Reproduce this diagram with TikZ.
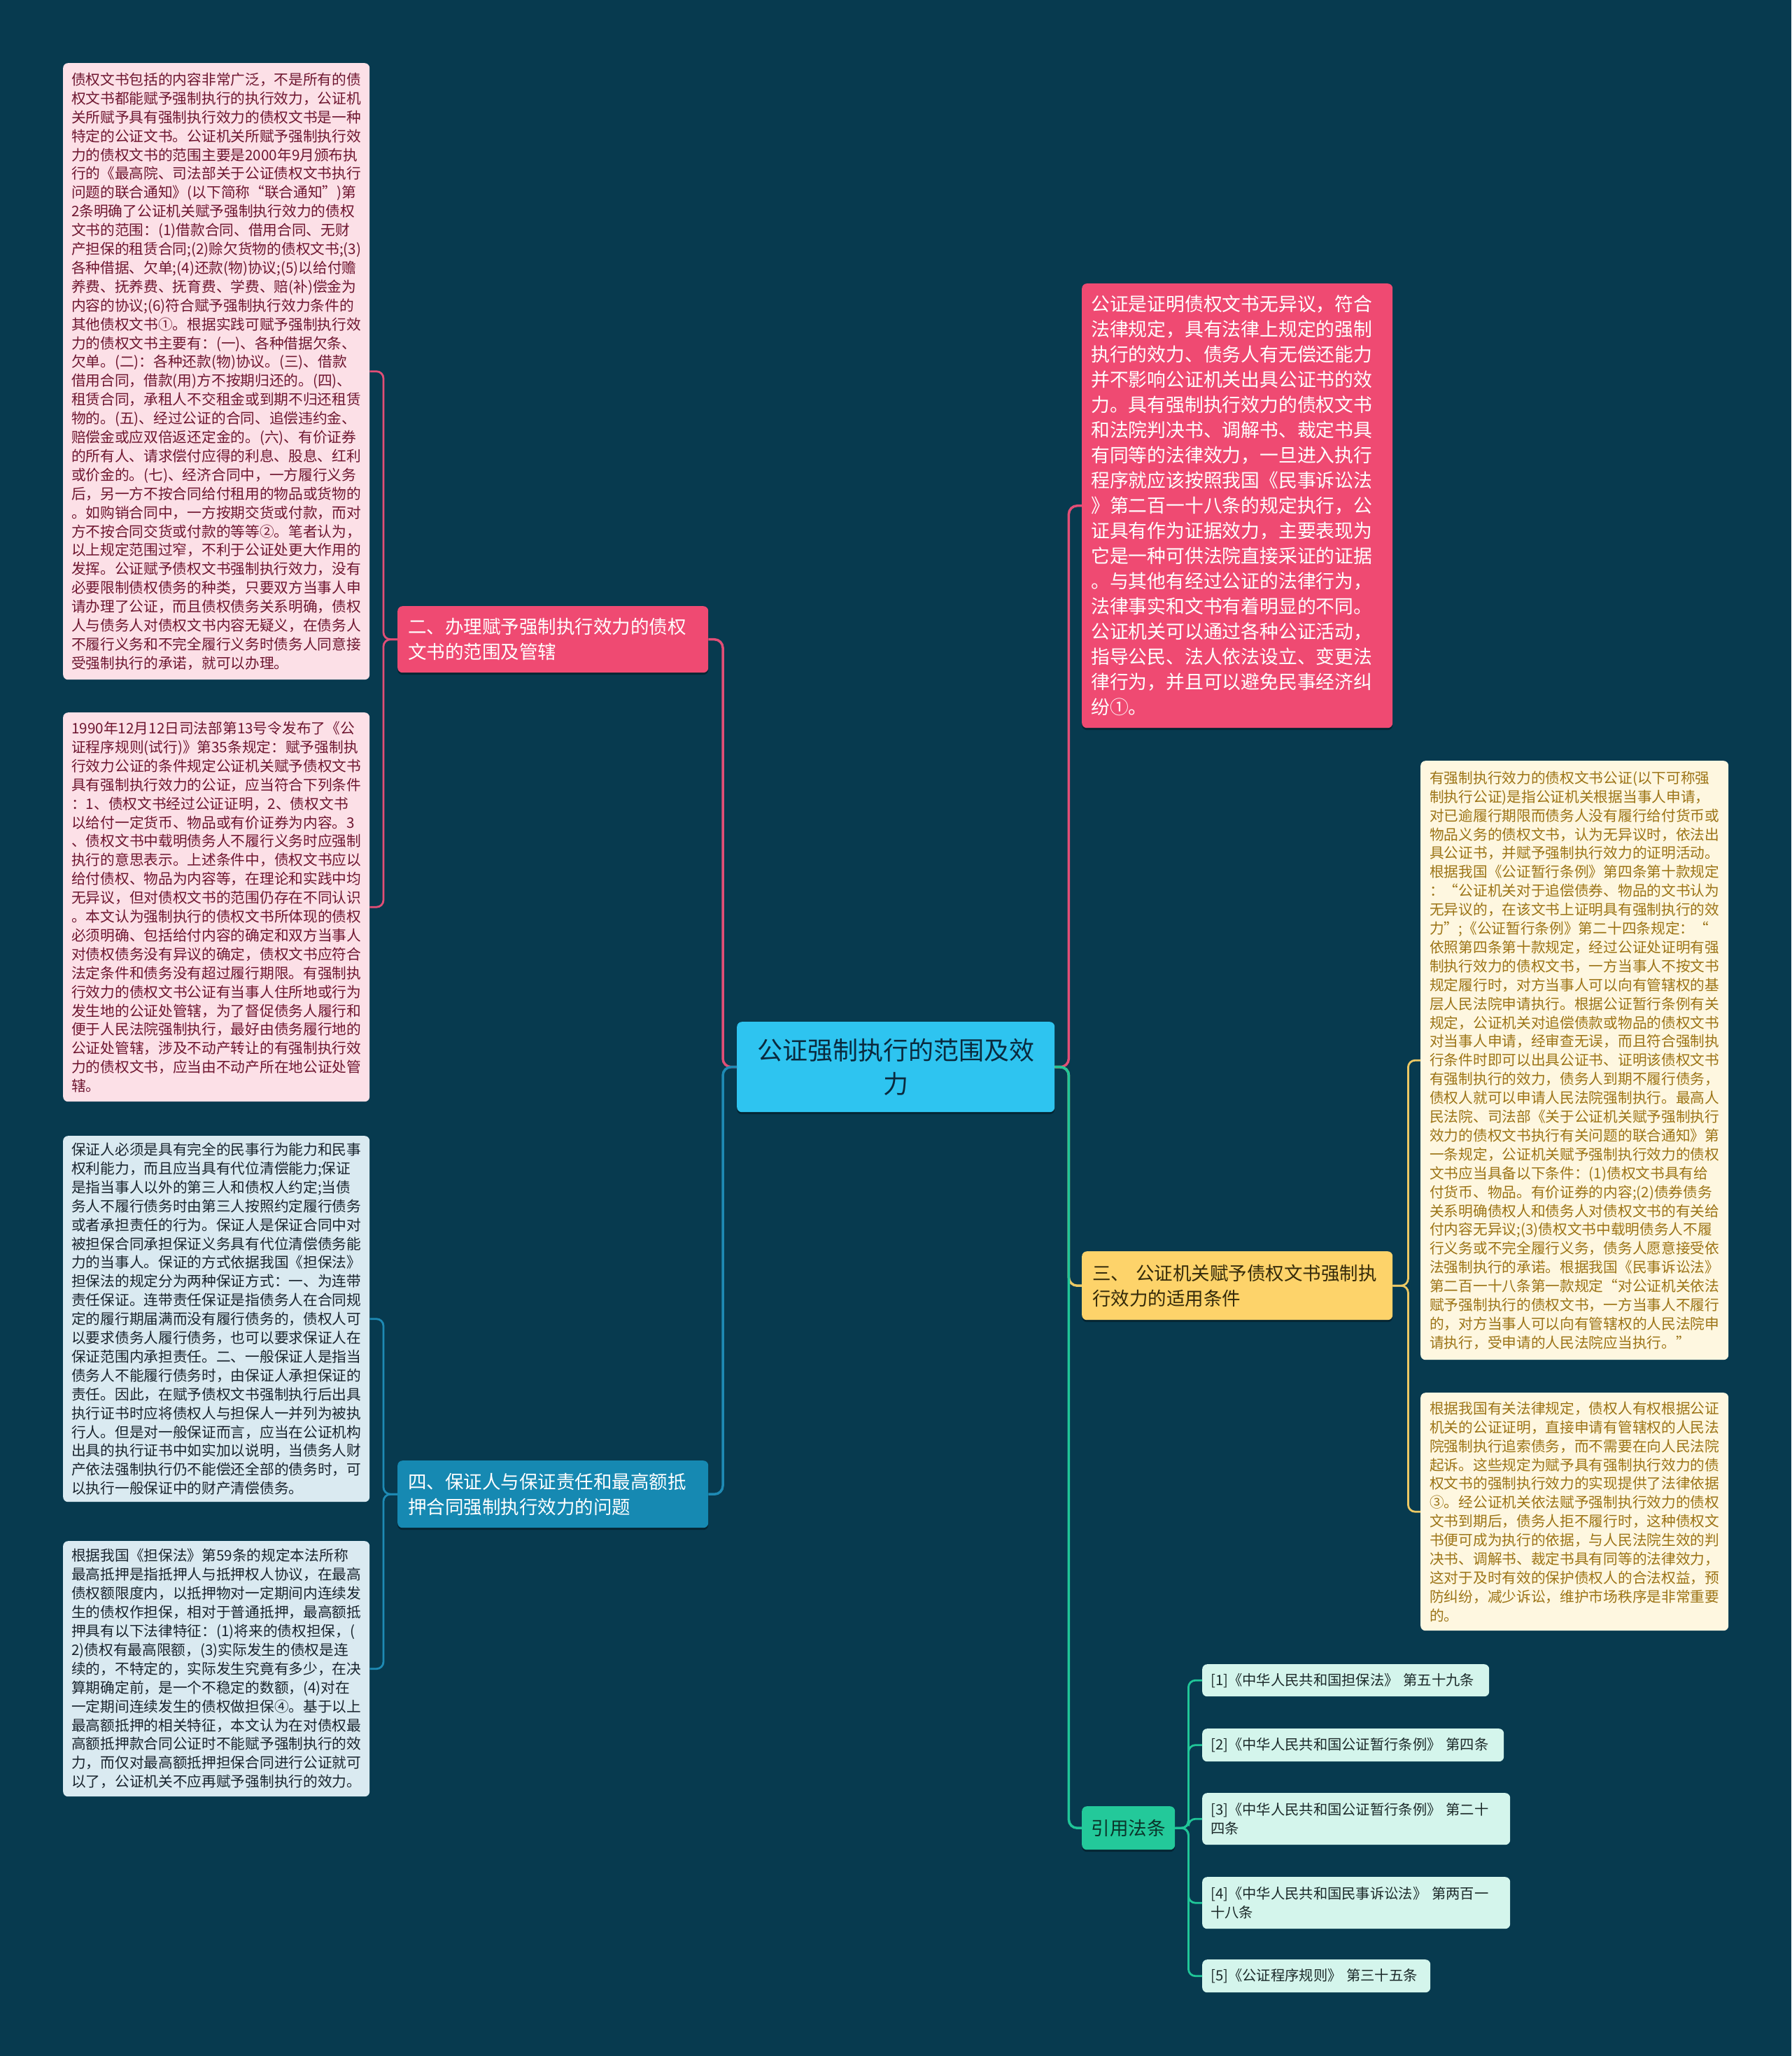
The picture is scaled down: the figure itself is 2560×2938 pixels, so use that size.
\documentclass[tikz,border=0pt]{standalone}
\usepackage{fontspec}
\setmainfont{Noto Sans CJK SC}
\usetikzlibrary{shadows}
\definecolor{bgcol}{RGB}{7,58,79}
\definecolor{pinkfill}{RGB}{239,74,114}
\definecolor{pinkleaf}{RGB}{252,224,231}
\definecolor{pinktext}{RGB}{110,22,48}
\definecolor{pinkline}{RGB}{226,78,118}
\definecolor{bluefill}{RGB}{22,137,178}
\definecolor{blueleaf}{RGB}{218,234,241}
\definecolor{bluetext}{RGB}{25,36,46}
\definecolor{blueline}{RGB}{30,138,180}
\definecolor{cyanfill}{RGB}{46,196,240}
\definecolor{cyantext}{RGB}{10,42,62}
\definecolor{yelfill}{RGB}{253,211,106}
\definecolor{yelleaf}{RGB}{254,247,224}
\definecolor{yeltext}{RGB}{156,116,22}
\definecolor{yeldark}{RGB}{52,42,10}
\definecolor{yelline}{RGB}{236,200,100}
\definecolor{grnfill}{RGB}{35,201,154}
\definecolor{grnleaf}{RGB}{212,245,236}
\definecolor{grntext}{RGB}{28,42,42}
\definecolor{grndark}{RGB}{10,52,42}
\definecolor{grnline}{RGB}{32,198,152}
\newcommand{\myleaffont}{\fontsize{20.7pt}{26.9pt}\selectfont}
\newcommand{\mybranchfont}{\fontsize{26.5pt}{36pt}\selectfont}
\newcommand{\myrbfont}{\fontsize{26.8pt}{36pt}\selectfont}
\newcommand{\mycenterfont}{\fontsize{36pt}{48pt}\selectfont}
\newcommand{\myreffont}{\fontsize{20.3pt}{27pt}\selectfont}
\tikzset{
  boxbase/.style={rounded corners=7pt, inner sep=0pt, anchor=north west, align=left},
  shade2/.style={drop shadow={shadow xshift=0pt, shadow yshift=-3pt, opacity=0.35, fill=black}},
  pinkleafbox/.style={boxbase, fill=pinkleaf, text=pinktext, font=\myleaffont},
  blueleafbox/.style={boxbase, fill=blueleaf, text=bluetext, font=\myleaffont},
  yelleafbox/.style={boxbase, fill=yelleaf, text=yeltext, font=\myleaffont},
  refbox/.style={boxbase, fill=grnleaf, text=grntext, font=\myreffont, inner xsep=12pt},
  pinkbranch/.style={boxbase, shade2, fill=pinkfill, text=white, font=\mybranchfont, inner xsep=15pt, text width=414pt},
  bluebranch/.style={boxbase, shade2, fill=bluefill, text=white, font=\mybranchfont, inner xsep=15pt, text width=414pt},
  yelbranch/.style={boxbase, shade2, fill=yelfill, text=yeldark, font=\mybranchfont, inner xsep=15pt, text width=414pt},
  grnbranch/.style={boxbase, shade2, fill=grnfill, text=grndark, font=\mybranchfont},
  centerbox/.style={boxbase, shade2, align=center, fill=cyanfill, text=cyantext, font=\mycenterfont},
  mainconn/.style={line width=3.5pt, rounded corners=12pt},
  leafconn/.style={line width=2.8pt, rounded corners=10pt},
}
\begin{document}
\begin{tikzpicture}[x=1pt,y=-1pt]
\fill[bgcol] (0,0) rectangle (2560,2938);
\path[use as bounding box] (0,0) rectangle (2560,2938);

% center
\node[centerbox, minimum width=454pt, minimum height=129pt] (c) at (1053,1460)
 {公证强制执行的范围及效\\力};

% left branches
\node[pinkbranch, minimum width=444pt, minimum height=95pt] (b2) at (568,866)
 {二、办理赋予强制执行效力的债权\\文书的范围及管辖};
\node[bluebranch, minimum width=444pt, minimum height=96pt] (b4) at (568,2087)
 {四、保证人与保证责任和最高额抵\\押合同强制执行效力的问题};

% right branches
\node[pinkbranch, minimum width=444pt, minimum height=635pt, font=\myrbfont, inner xsep=13pt, text width=418pt] (rb) at (1546,405)
 {公证是证明债权文书无异议，符合\\
法律规定，具有法律上规定的强制\\
执行的效力、债务人有无偿还能力\\
并不影响公证机关出具公证书的效\\
力。具有强制执行效力的债权文书\\
和法院判决书、调解书、裁定书具\\
有同等的法律效力，一旦进入执行\\
程序就应该按照我国《民事诉讼法\\
》第二百一十八条的规定执行，公\\
证具有作为证据效力，主要表现为\\
它是一种可供法院直接采证的证据\\
。与其他有经过公证的法律行为，\\
法律事实和文书有着明显的不同。\\
公证机关可以通过各种公证活动，\\
指导公民、法人依法设立、变更法\\
律行为，并且可以避免民事经济纠\\
纷①。};
\node[yelbranch, minimum width=444pt, minimum height=98pt] (b3) at (1546,1788)
 {三、 公证机关赋予债权文书强制执\\行效力的适用条件};
\node[grnbranch, minimum width=133pt, minimum height=62pt] (b5) at (1546,2581)
 {引用法条};

% left leaves
\node[pinkleafbox, minimum width=438pt, minimum height=881pt] (l1) at (90,90)
 {债权文书包括的内容非常广泛，不是所有的债\\
权文书都能赋予强制执行的执行效力，公证机\\
关所赋予具有强制执行效力的债权文书是一种\\
特定的公证文书。公证机关所赋予强制执行效\\
力的债权文书的范围主要是2000年9月颁布执\\
行的《最高院、司法部关于公证债权文书执行\\
问题的联合通知》(以下简称“联合通知”)第\\
2条明确了公证机关赋予强制执行效力的债权\\
文书的范围：(1)借款合同、借用合同、无财\\
产担保的租赁合同;(2)赊欠货物的债权文书;(3)\\
各种借据、欠单;(4)还款(物)协议;(5)以给付赡\\
养费、抚养费、抚育费、学费、赔(补)偿金为\\
内容的协议;(6)符合赋予强制执行效力条件的\\
其他债权文书①。根据实践可赋予强制执行效\\
力的债权文书主要有：(一)、各种借据欠条、\\
欠单。(二)：各种还款(物)协议。(三)、借款\\
借用合同，借款(用)方不按期归还的。(四)、\\
租赁合同，承租人不交租金或到期不归还租赁\\
物的。(五)、经过公证的合同、追偿违约金、\\
赔偿金或应双倍返还定金的。(六)、有价证券\\
的所有人、请求偿付应得的利息、股息、红利\\
或价金的。(七)、经济合同中，一方履行义务\\
后，另一方不按合同给付租用的物品或货物的\\
。如购销合同中，一方按期交货或付款，而对\\
方不按合同交货或付款的等等②。笔者认为，\\
以上规定范围过窄，不利于公证处更大作用的\\
发挥。公证赋予债权文书强制执行效力，没有\\
必要限制债权债务的种类，只要双方当事人申\\
请办理了公证，而且债权债务关系明确，债权\\
人与债务人对债权文书内容无疑义，在债务人\\
不履行义务和不完全履行义务时债务人同意接\\
受强制执行的承诺，就可以办理。};

\node[pinkleafbox, minimum width=438pt, minimum height=556pt] (l2) at (90,1018)
 {1990年12月12日司法部第13号令发布了《公\\
证程序规则(试行)》第35条规定：赋予强制执\\
行效力公证的条件规定公证机关赋予债权文书\\
具有强制执行效力的公证，应当符合下列条件\\
：1、债权文书经过公证证明，2、债权文书\\
以给付一定货币、物品或有价证券为内容。3\\
、债权文书中载明债务人不履行义务时应强制\\
执行的意思表示。上述条件中，债权文书应以\\
给付债权、物品为内容等，在理论和实践中均\\
无异议，但对债权文书的范围仍存在不同认识\\
。本文认为强制执行的债权文书所体现的债权\\
必须明确、包括给付内容的确定和双方当事人\\
对债权债务没有异议的确定，债权文书应符合\\
法定条件和债务没有超过履行期限。有强制执\\
行效力的债权文书公证有当事人住所地或行为\\
发生地的公证处管辖，为了督促债务人履行和\\
便于人民法院强制执行，最好由债务履行地的\\
公证处管辖，涉及不动产转让的有强制执行效\\
力的债权文书，应当由不动产所在地公证处管\\
辖。};

\node[blueleafbox, minimum width=438pt, minimum height=523pt] (l3) at (90,1623)
 {保证人必须是具有完全的民事行为能力和民事\\
权利能力，而且应当具有代位清偿能力;保证\\
是指当事人以外的第三人和债权人约定;当债\\
务人不履行债务时由第三人按照约定履行债务\\
或者承担责任的行为。保证人是保证合同中对\\
被担保合同承担保证义务具有代位清偿债务能\\
力的当事人。保证的方式依据我国《担保法》\\
担保法的规定分为两种保证方式：一、为连带\\
责任保证。连带责任保证是指债务人在合同规\\
定的履行期届满而没有履行债务的，债权人可\\
以要求债务人履行债务，也可以要求保证人在\\
保证范围内承担责任。二、一般保证人是指当\\
债务人不能履行债务时，由保证人承担保证的\\
责任。因此，在赋予债权文书强制执行后出具\\
执行证书时应将债权人与担保人一并列为被执\\
行人。但是对一般保证而言，应当在公证机构\\
出具的执行证书中如实加以说明，当债务人财\\
产依法强制执行仍不能偿还全部的债务时，可\\
以执行一般保证中的财产清偿债务。};

\node[blueleafbox, minimum width=438pt, minimum height=365pt] (l4) at (90,2202)
 {根据我国《担保法》第59条的规定本法所称\\
最高抵押是指抵押人与抵押权人协议，在最高\\
债权额限度内，以抵押物对一定期间内连续发\\
生的债权作担保，相对于普通抵押，最高额抵\\
押具有以下法律特征：(1)将来的债权担保，(\\
2)债权有最高限额，(3)实际发生的债权是连\\
续的，不特定的，实际发生究竟有多少，在决\\
算期确定前，是一个不稳定的数额，(4)对在\\
一定期间连续发生的债权做担保④。基于以上\\
最高额抵押的相关特征，本文认为在对债权最\\
高额抵押款合同公证时不能赋予强制执行的效\\
力，而仅对最高额抵押担保合同进行公证就可\\
以了，公证机关不应再赋予强制执行的效力。};

% right leaves
\node[yelleafbox, minimum width=440pt, minimum height=856pt] (y1) at (2030,1087)
 {有强制执行效力的债权文书公证(以下可称强\\
制执行公证)是指公证机关根据当事人申请，\\
对已逾履行期限而债务人没有履行给付货币或\\
物品义务的债权文书，认为无异议时，依法出\\
具公证书，并赋予强制执行效力的证明活动。\\
根据我国《公证暂行条例》第四条第十款规定\\
：“公证机关对于追偿债券、物品的文书认为\\
无异议的，在该文书上证明具有强制执行的效\\
力”;《公证暂行条例》第二十四条规定：“\\
依照第四条第十款规定，经过公证处证明有强\\
制执行效力的债权文书，一方当事人不按文书\\
规定履行时，对方当事人可以向有管辖权的基\\
层人民法院申请执行。根据公证暂行条例有关\\
规定，公证机关对追偿债款或物品的债权文书\\
对当事人申请，经审查无误，而且符合强制执\\
行条件时即可以出具公证书、证明该债权文书\\
有强制执行的效力，债务人到期不履行债务，\\
债权人就可以申请人民法院强制执行。最高人\\
民法院、司法部《关于公证机关赋予强制执行\\
效力的债权文书执行有关问题的联合通知》第\\
一条规定，公证机关赋予强制执行效力的债权\\
文书应当具备以下条件：(1)债权文书具有给\\
付货币、物品。有价证券的内容;(2)债券债务\\
关系明确债权人和债务人对债权文书的有关给\\
付内容无异议;(3)债权文书中载明债务人不履\\
行义务或不完全履行义务，债务人愿意接受依\\
法强制执行的承诺。根据我国《民事诉讼法》\\
第二百一十八条第一款规定“对公证机关依法\\
赋予强制执行的债权文书，一方当事人不履行\\
的，对方当事人可以向有管辖权的人民法院申\\
请执行，受申请的人民法院应当执行。”};

\node[yelleafbox, minimum width=440pt, minimum height=340pt] (y2) at (2030,1990)
 {根据我国有关法律规定，债权人有权根据公证\\
机关的公证证明，直接申请有管辖权的人民法\\
院强制执行追索债务，而不需要在向人民法院\\
起诉。这些规定为赋予具有强制执行效力的债\\
权文书的强制执行效力的实现提供了法律依据\\
③。经公证机关依法赋予强制执行效力的债权\\
文书到期后，债务人拒不履行时，这种债权文\\
书便可成为执行的依据，与人民法院生效的判\\
决书、调解书、裁定书具有同等的法律效力，\\
这对于及时有效的保护债权人的合法权益，预\\
防纠纷，减少诉讼，维护市场秩序是非常重要\\
的。};

% references
\node[refbox, text width=386pt, minimum height=46pt] (r1) at (1718,2378)
 {[1]《中华人民共和国担保法》 第五十九条};
\node[refbox, text width=407pt, minimum height=47pt] (r2) at (1718,2470)
 {[2]《中华人民共和国公证暂行条例》 第四条};
\node[refbox, text width=416pt, minimum height=74pt] (r3) at (1718,2562)
 {[3]《中华人民共和国公证暂行条例》 第二十\\四条};
\node[refbox, text width=416pt, minimum height=74pt] (r4) at (1718,2682)
 {[4]《中华人民共和国民事诉讼法》 第两百一\\十八条};
\node[refbox, text width=302pt, minimum height=47pt] (r5) at (1718,2800)
 {[5]《公证程序规则》 第三十五条};

% connectors: center to branches
\draw[mainconn, pinkline] (c.west) -- ++(-20,0) |- (b2.east);
\draw[mainconn, blueline] (c.west) -- ++(-20,0) |- (b4.east);
\draw[mainconn, pinkline] (c.east) -- ++(20,0) |- (rb.west);
\draw[mainconn, yelline] (c.east) -- ++(20,0) |- (b3.west);
\draw[mainconn, grnline] (c.east) -- ++(20,0) |- (b5.west);

% branch to leaves
\draw[leafconn, pinkline] (b2.west) -- ++(-20,0) |- (l1.east);
\draw[leafconn, pinkline] (b2.west) -- ++(-20,0) |- (l2.east);
\draw[leafconn, blueline] (b4.west) -- ++(-20,0) |- (l3.east);
\draw[leafconn, blueline] (b4.west) -- ++(-20,0) |- (l4.east);
\draw[leafconn, yelline] (b3.east) -- ++(22,0) |- (y1.west);
\draw[leafconn, yelline] (b3.east) -- ++(22,0) |- (y2.west);
\draw[leafconn, grnline] (b5.east) -- ++(19,0) |- (r1.west);
\draw[leafconn, grnline] (b5.east) -- ++(19,0) |- (r2.west);
\draw[leafconn, grnline] (b5.east) -- ++(19,0) |- (r3.west);
\draw[leafconn, grnline] (b5.east) -- ++(19,0) |- (r4.west);
\draw[leafconn, grnline] (b5.east) -- ++(19,0) |- (r5.west);
\end{tikzpicture}
\end{document}
